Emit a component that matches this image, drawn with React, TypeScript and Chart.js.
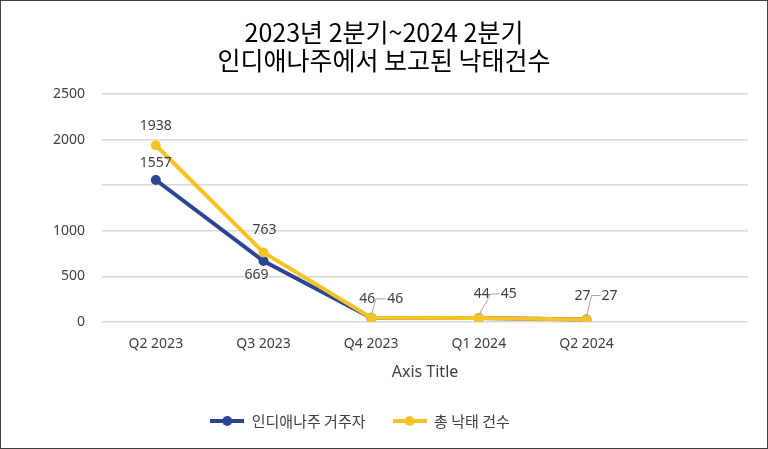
import React, { useEffect, useRef } from 'react';
import { Chart, registerables } from 'chart.js';

Chart.register(...registerables);

const categories = ['Q2 2023', 'Q3 2023', 'Q4 2023', 'Q1 2024', 'Q2 2024', ''];
const residents = [1557, 669, 46, 44, 27, null];
const totals = [1938, 763, 46, 45, 27, null];
const yTicks = [0, 500, 1000, 1500, 2000, 2500];
const hiddenTickLabels = [1500];
const titleLines = ['2023년 2분기~2024 2분기', '인디애나주에서 보고된 낙태건수'];
const seriesNames = ['인디애나주 거주자', '총 낙태 건수'];
const axisTitle = 'Axis Title';

const BLUE = '#2B4594';
const YELLOW = '#F6C324';
const TEXT = '#404040';
const FONT = "'Noto Sans', 'Noto Sans CJK KR', sans-serif";
const KFONT = "'Noto Sans CJK KR', 'Noto Sans', sans-serif";

type LabelPos = { dx?: number; dy?: number; leader?: { lx: number; ly: number; lw: number }; side?: 'left' | 'right' } | null;

// label placement (styling only)
const residentLabelPos: LabelPos[] = [
  { dx: 0, dy: -17 },
  { dx: -7, dy: 14 },
  { leader: { lx: 5, ly: -19, lw: 10 }, side: 'left' },
  { leader: { lx: 12, ly: -24, lw: 9 }, side: 'left' },
  { leader: { lx: 5, ly: -24, lw: 9 }, side: 'left' },
  null,
];
const totalLabelPos: LabelPos[] = [
  { dx: 0, dy: -19 },
  { dx: 1, dy: -22 },
  { leader: { lx: 5, ly: -19, lw: 10 }, side: 'right' },
  { leader: { lx: 12, ly: -24, lw: 9 }, side: 'right' },
  { leader: { lx: 5, ly: -24, lw: 9 }, side: 'right' },
  null,
];

function makeLegendIcon(color: string) {
  const c = document.createElement('canvas');
  c.width = 34;
  c.height = 12;
  const ctx = c.getContext('2d')!;
  ctx.strokeStyle = color;
  ctx.lineWidth = 4;
  ctx.beginPath();
  ctx.moveTo(0, 6);
  ctx.lineTo(34, 6);
  ctx.stroke();
  ctx.fillStyle = color;
  ctx.beginPath();
  ctx.arc(17, 6, 5, 0, Math.PI * 2);
  ctx.fill();
  return c;
}

const framePlugin = {
  id: 'frame',
  beforeDraw(chart: any) {
    const { ctx, width, height } = chart;
    ctx.save();
    ctx.fillStyle = '#ffffff';
    ctx.fillRect(0, 0, width, height);
    ctx.restore();
  },
  afterLayout(chart: any) {
    const lg = chart.legend;
    if (lg) {
      lg.left -= 24;
      lg.right -= 24;
    }
  },
  afterDraw(chart: any) {
    const { ctx, width, height } = chart;
    ctx.save();
    ctx.strokeStyle = '#404040';
    ctx.lineWidth = 1;
    ctx.strokeRect(0.5, 0.5, width - 1, height - 1);
    ctx.restore();
  },
};

const labelPlugin = {
  id: 'valueLabels',
  afterDatasetsDraw(chart: any) {
    const { ctx } = chart;
    const layouts = [residentLabelPos, totalLabelPos];
    ctx.save();
    ctx.font = `14px ${FONT}`;
    ctx.fillStyle = TEXT;
    ctx.textBaseline = 'middle';
    chart.data.datasets.forEach((ds: any, di: number) => {
      const meta = chart.getDatasetMeta(di);
      meta.data.forEach((pt: any, i: number) => {
        const v = ds.data[i];
        const pos = layouts[di][i];
        if (v == null || !pos) return;
        const x = pt.x;
        const y = pt.y;
        if (pos.leader) {
          const { lx, ly, lw } = pos.leader;
          if (pos.side === 'right') {
            ctx.save();
            ctx.strokeStyle = '#a6a6a6';
            ctx.lineWidth = 1;
            ctx.beginPath();
            ctx.moveTo(x, y - 3);
            ctx.lineTo(x + lx, y + ly);
            ctx.lineTo(x + lx + lw, y + ly);
            ctx.stroke();
            ctx.restore();
            ctx.textAlign = 'left';
            ctx.fillText(String(v), x + lx + lw + 1, y + ly);
          } else {
            ctx.textAlign = 'right';
            ctx.fillText(String(v), x + lx - 1, y + ly);
          }
        } else {
          ctx.textAlign = 'center';
          ctx.fillText(String(v), x + (pos.dx || 0), y + (pos.dy || 0));
        }
      });
    });
    ctx.restore();
  },
};

export default function App() {
  const ref = useRef<HTMLCanvasElement>(null);
  useEffect(() => {
    const icons = [makeLegendIcon(BLUE), makeLegendIcon(YELLOW)];
    const chart = new Chart(ref.current!, {
      type: 'line',
      data: {
        labels: categories,
        datasets: [
          {
            label: seriesNames[0],
            data: residents,
            borderColor: BLUE,
            backgroundColor: BLUE,
            borderWidth: 4,
            pointRadius: 5,
            pointHoverRadius: 5,
            pointBackgroundColor: BLUE,
            pointBorderWidth: 0,
            order: 1,
          },
          {
            label: seriesNames[1],
            data: totals,
            borderColor: YELLOW,
            backgroundColor: YELLOW,
            borderWidth: 4,
            pointRadius: 5,
            pointHoverRadius: 5,
            pointBackgroundColor: YELLOW,
            pointBorderWidth: 0,
            order: 0,
          },
        ],
      },
      options: {
        responsive: false,
        animation: false,
        devicePixelRatio: 1,
        layout: { padding: { left: 20, right: 20, top: 0, bottom: 10.5 } },
        plugins: {
          title: {
            display: true,
            text: titleLines,
            color: '#000000',
            font: { size: 25, family: KFONT, weight: 'normal', lineHeight: 28 / 25 },
            padding: { top: 18, bottom: 20 },
          },
          legend: {
            display: true,
            position: 'bottom',
            labels: {
              usePointStyle: true,
              pointStyleWidth: 34,
              padding: 27,
              color: TEXT,
              font: { size: 15, family: KFONT },
              sort: (a: any, b: any) => a.datasetIndex - b.datasetIndex,
              generateLabels: (ch: any) =>
                ch.data.datasets.map((ds: any, i: number) => ({
                  text: ds.label,
                  fillStyle: ds.borderColor,
                  strokeStyle: 'rgba(0,0,0,0)',
                  lineWidth: 0,
                  pointStyle: icons[i],
                  hidden: false,
                  datasetIndex: i,
                  fontColor: TEXT,
                })),
            },
          },
          tooltip: { enabled: false },
        },
        scales: {
          x: {
            offset: true,
            grid: { display: false, drawTicks: false },
            border: { display: false },
            afterFit: (s: any) => {
              s.height = 64.5;
            },
            ticks: {
              color: TEXT,
              font: { size: 14, family: FONT },
              padding: 14,
              maxRotation: 0,
              autoSkip: false,
            },
            title: {
              display: true,
              text: axisTitle,
              color: TEXT,
              font: { size: 16, family: FONT },
              padding: { top: 4, bottom: 4 },
            },
          },
          y: {
            min: 0,
            max: 2500,
            afterBuildTicks: (s: any) => {
              s.ticks = yTicks.map((v) => ({ value: v }));
            },
            afterFit: (s: any) => {
              s.width = 82;
            },
            grid: { color: '#d9d9d9', lineWidth: 1.5, drawTicks: false },
            border: { display: false },
            ticks: {
              padding: 17,
              color: TEXT,
              font: { size: 14, family: FONT },
              callback: (v: any) => (hiddenTickLabels.includes(Number(v)) ? '' : String(v)),
            },
          },
        },
      },
      plugins: [framePlugin, labelPlugin],
    });
    return () => chart.destroy();
  }, []);
  return (
    <div style={{ position: 'fixed', left: 0, top: 0, width: 768, height: 449 }}>
      <canvas ref={ref} width={768} height={449} style={{ display: 'block' }} />
    </div>
  );
}
